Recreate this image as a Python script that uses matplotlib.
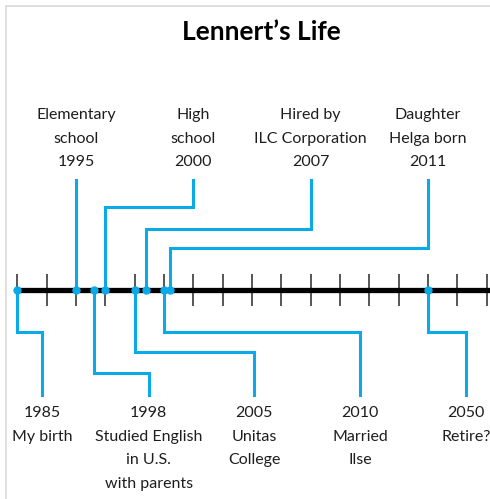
import matplotlib
matplotlib.use("Agg")
import matplotlib.pyplot as plt
from matplotlib.lines import Line2D

# events shown above the time line
above_years = [1995, 2000, 2007, 2011]
above_text = ["Elementary\nschool", "High\nschool", "Hired by\nILC Corporation", "Daughter\nHelga born"]

# events shown below the time line
below_years = [1985, 1998, 2005, 2010, 2050]
below_text = ["My birth", "Studied English\nin U.S.\nwith parents", "Unitas\nCollege", "Married\nIlse", "Retire?"]
# the 2050 marker sits one tick further out in the original picture
below_marks = [1985, 1998, 2005, 2010, 2055]

tick_years = list(range(1985, 2070, 5))

# layout (label centres on the year scale, elbow heights in pixels)
above_lx = [1995, 2015, 2035, 2055]
above_elbow = [206, 207, 229, 248]
below_lx = [1989.2, 2007.4, 2025.4, 2043.4, 2061.5]
below_elbow = [332, 373, 352, 332, 332]

blue = "#0aa9e8"
txt = "#1e1e1e"
font = ["Lato", "DejaVu Sans"]

px_per_year = 5.867
x0 = 1985 - 17.3 / px_per_year
x1 = 1985 + (490 - 17.3) / px_per_year
axis_y = 290

fig = plt.figure(figsize=(4.9, 4.99), dpi=100)
ax = fig.add_axes([0, 0, 1, 1])
ax.set_xlim(x0, x1)
ax.set_ylim(499, 0)
ax.axis("off")

# frame lines (left / top)
fig.add_artist(Line2D([6 / 490, 6 / 490], [0, 1 - 6 / 499], transform=fig.transFigure,
                      color="#d9d9d9", lw=1.2))
fig.add_artist(Line2D([6 / 490, 1], [1 - 6 / 499, 1 - 6 / 499], transform=fig.transFigure,
                      color="#d9d9d9", lw=1.2))

# main axis and ticks
ax.plot([1985, x1 + 1], [axis_y, axis_y], color="black", lw=3.8, solid_capstyle="butt", zorder=2)
ax.vlines(tick_years, axis_y - 16, axis_y + 16, color="#3a3a3a", lw=1.2, zorder=1)

# connectors above
for yr, lx, ey, t in zip(above_years, above_lx, above_elbow, above_text):
    ax.plot([yr, yr, lx, lx], [axis_y, ey, ey, 180], color=blue, lw=2.2,
            solid_joinstyle="miter", zorder=3)
    ax.plot(yr, axis_y, "o", color=blue, ms=5, zorder=4)
    ax.text(lx, 108, f"{t}\n{yr}", ha="center", va="top", fontsize=11.5, color=txt,
            family=font, linespacing=1.88)

# connectors below
for yr, mk, lx, ey, t in zip(below_years, below_marks, below_lx, below_elbow, below_text):
    ax.plot([mk, mk, lx, lx], [axis_y, ey, ey, 395], color=blue, lw=2.2,
            solid_joinstyle="miter", zorder=3)
    ax.plot(mk, axis_y, "o", color=blue, ms=5, zorder=4)
    ax.text(lx, 406, f"{yr}\n{t}", ha="center", va="top", fontsize=11.5, color=txt,
            family=font, linespacing=1.88)

fig.text(261.5 / 490, 1 - 32 / 499, "Lennert\u2019s Life", ha="center", va="center",
         fontsize=19, fontweight="bold", color="black", family=font)

fig.savefig("out.png", dpi=100)
